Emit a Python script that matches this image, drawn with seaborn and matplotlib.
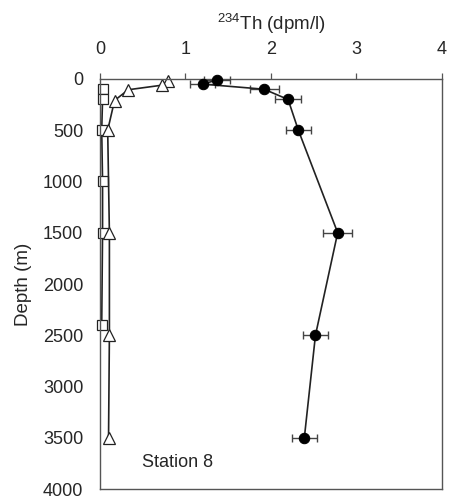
import numpy as np
import matplotlib
matplotlib.use("Agg")
import matplotlib.pyplot as plt
import seaborn as sns

# total 234Th (filled circles)
th_tot = [1.37, 1.20, 1.92, 2.20, 2.32, 2.78, 2.52, 2.39]
th_tot_err = [0.15, 0.15, 0.17, 0.15, 0.15, 0.17, 0.15, 0.15]
depth_tot = [10, 50, 100, 200, 500, 1500, 2500, 3500]

# particulate (open triangles)
th_tri = [0.79, 0.73, 0.33, 0.17, 0.09, 0.11, 0.11, 0.10]
depth_tri = [15, 60, 105, 210, 500, 1500, 2500, 3500]

# open squares
th_sq = [0.03, 0.03, 0.02, 0.03, 0.03, 0.02]
depth_sq = [100, 200, 500, 1000, 1500, 2400]

sns.set_style("white")
plt.rcParams['font.family'] = ['Liberation Sans', 'DejaVu Sans']
plt.rcParams['mathtext.fontset'] = 'custom'
plt.rcParams['mathtext.rm'] = 'Liberation Sans'
plt.rcParams['mathtext.it'] = 'Liberation Sans:italic'

fig = plt.figure(figsize=(4.49, 4.98), dpi=100)
ax = fig.add_axes([0.2227, 0.018, 0.7617, 0.8234])

lc = "#222222"
sns.lineplot(x=th_sq, y=depth_sq, sort=False, estimator=None, ax=ax, color=lc,
             lw=1.2, marker="s", markersize=7, markerfacecolor="white",
             markeredgecolor=lc, markeredgewidth=0.9)
sns.lineplot(x=th_tri, y=depth_tri, sort=False, estimator=None, ax=ax, color=lc,
             lw=1.2, marker="^", markersize=8.5, markerfacecolor="white",
             markeredgecolor=lc, markeredgewidth=0.9)
ax.errorbar(th_tot, depth_tot, xerr=th_tot_err, fmt="none", ecolor="#444444",
            elinewidth=1.0, capsize=3, capthick=1.0, zorder=3)
sns.lineplot(x=th_tot, y=depth_tot, sort=False, estimator=None, ax=ax, color=lc,
             lw=1.2, marker="o", markersize=7.5, markerfacecolor="black",
             markeredgecolor="black", zorder=4)
for ln in ax.lines:
    ln.set_clip_on(False)

ax.set_xlim(0, 4)
ax.set_ylim(4000, 0)
ax.set_xticks([0, 1, 2, 3, 4])
ax.set_yticks(np.arange(0, 4001, 500))
ax.xaxis.tick_top()
ax.xaxis.set_label_position("top")
ax.tick_params(axis="both", direction="out", length=4, width=0.9, color="#555555",
               labelsize=13, pad=8)
ax.tick_params(axis="x", pad=11)
ax.set_xlabel("$\\mathregular{^{234}}$Th (dpm/l)", fontsize=13.5, labelpad=8)
ax.set_ylabel("Depth (m)", fontsize=13.5, labelpad=8)
for s in ax.spines.values():
    s.set_visible(True)
    s.set_color("#555555")
    s.set_linewidth(1.0)

ax.text(0.49, 3740, "Station 8", fontsize=13, va="center", ha="left")

fig.savefig("out.png", dpi=100)
